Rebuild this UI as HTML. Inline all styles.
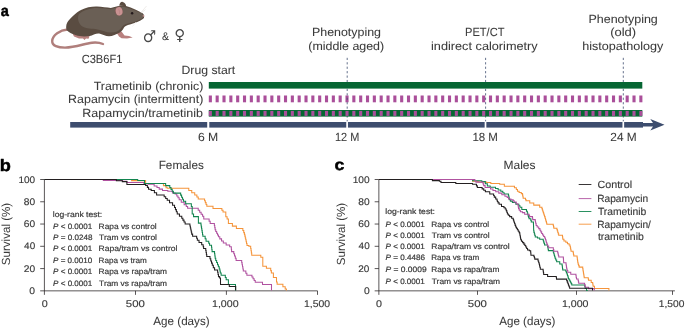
<!DOCTYPE html>
<html lang="en">
<head>
<meta charset="utf-8">
<title>Figure: drug treatment timeline and survival curves</title>
<style>
html,body{margin:0;padding:0;background:#fff;}
body{width:685px;height:328px;overflow:hidden;}
svg{display:block;font-family:"Liberation Sans",sans-serif;}
text{white-space:pre;text-rendering:geometricPrecision;}
</style>
</head>
<body>
<svg width="685" height="328" viewBox="0 0 685 328">
<rect width="685" height="328" fill="#fff"/>
<text x="0.75" y="15.9" font-size="15.4" textLength="8.1" font-weight="bold" fill="#000" stroke="#000" stroke-width="0.45" stroke-linejoin="round" lengthAdjust="spacingAndGlyphs">a</text>
<text x="-0.2" y="170.6" font-size="16.6" textLength="11.1" font-weight="bold" fill="#000" stroke="#000" stroke-width="0.45" stroke-linejoin="round" lengthAdjust="spacingAndGlyphs">b</text>
<text x="334.5" y="170.0" font-size="15.6" textLength="9.9" font-weight="bold" fill="#000" stroke="#000" stroke-width="0.45" stroke-linejoin="round" lengthAdjust="spacingAndGlyphs">c</text>

<g id="mouse">
 <path d="M67.5,29.5 C60,30 52.5,35 52.2,41 C52,46 58,47.6 65,47.6 C76,47.4 84,43.6 92,42.7 C97,42.2 100.5,42.9 103,44" fill="none" stroke="#b07f7c" stroke-width="2.4" stroke-linecap="round"/>
 <path d="M72,32.5 L74,36.5 L79,38.6 L83,38.4 L84.5,40 L86,38.6 L88.5,38.8 L89.5,36.5 L88,34.5 Z" fill="#b8807e"/>
 <path d="M116.5,32.5 L119,36.5 L121.5,38.2 L127,38.4 L132.7,37.4 L129,36 L124.5,35.6 L121.5,31.5 Z" fill="#b8807e"/>
 <path d="M119.3,5.6 C119.6,3 121,1.6 122.6,1.9 C124.5,2.2 126,4 126.2,6.3 Z" fill="#5a4c41"/>
 <path d="M66.5,30 C65.6,26 66.6,23 68.2,21 C71,17.5 76,12.5 81,10 C86,7.5 92,6.4 97,6.6 C102,6.8 107,7.6 110.8,8 C112.5,7.6 114.5,7.2 116.5,6.6 C119,5.6 122.5,5.0 126,5.9 C132,7.8 139,10.8 142.6,13.2 C144.5,14.6 144.7,17.6 143.2,18.8 C140,21.3 135,23.2 130,24.4 C127,25 125,26 124,27.5 C123,29.5 121.8,31.4 119.8,32.4 C116.5,34.2 112.5,36.2 109,36.3 C105.5,36.2 103,34.6 100,33.8 C96.5,33 94,34.8 91,35.7 C86,36.8 80,36.6 76,35.3 C72.5,34.2 69,32.5 66.5,30 Z" fill="#5a4c41"/>
 <path d="M79,14 C83,10.5 90,8 97,8 C103,8 108,9 111,9.3 C114,8.6 118,7 122,6.8 C128,7.4 137,11.2 142.2,14 C143.6,15.2 143.6,17.4 142.4,18.2 C138,20.8 133,22.4 128,23.4 C124,24 122,26.5 120.5,29 C118.5,31.5 115,32.4 111,32.6 C106,32.4 102,30 97.5,29.4 C92,28.8 86,28.8 82.5,26.6 C78.5,24 76.8,18 79,14 Z" fill="#6a5f55"/>
 <ellipse cx="118.8" cy="11.1" rx="4.1" ry="4.8" fill="#7a5b55" transform="rotate(-12 118.8 11.1)"/>
 <ellipse cx="119.1" cy="11.3" rx="3.4" ry="4.2" fill="#c99292" transform="rotate(-12 119.1 11.3)"/>
 <path d="M118.2,8.6 C119.4,10 119.8,12 119.4,14" fill="none" stroke="#b57f7f" stroke-width="0.6"/>
 <circle cx="132.1" cy="13.3" r="1.25" fill="#241a1c"/>
 <circle cx="143.5" cy="15.8" r="0.9" fill="#c48d8d"/>
 <path d="M141,12.5 L146.5,6 M141.5,12.8 L145.5,9.5" stroke="#e4e0de" stroke-width="0.6" fill="none"/>
 <path d="M136,22 L132.5,26.5" stroke="#ece9e7" stroke-width="0.6" fill="none"/>
</g>

<text id="t1" x="81.64" y="62.90" font-size="11.8" textLength="40.72" lengthAdjust="spacingAndGlyphs" fill="#3a3a3a" stroke="#3a3a3a" stroke-width="0.06" >C3B6F1</text>
<text transform="translate(149.4,41.9) scale(1,1.1)" x="0" y="0" font-size="15" text-anchor="middle" font-family="'DejaVu Sans', sans-serif" fill="#484848">&#9794;</text>
<text id="t2" x="162.06" y="40.30" font-size="11" textLength="7.04" lengthAdjust="spacingAndGlyphs" fill="#3a3a3a" stroke="#3a3a3a" stroke-width="0.06" >&amp;</text>
<text transform="translate(179.7,39.6)" x="0" y="0" font-size="15" text-anchor="middle" font-family="'DejaVu Sans', sans-serif" fill="#484848">&#9792;</text>
<text id="t3" x="181.49" y="73.80" font-size="11.8" textLength="53.71" lengthAdjust="spacingAndGlyphs" fill="#3a3a3a" stroke="#3a3a3a" stroke-width="0.06" >Drug start</text>
<text id="t4" x="93.75" y="89.50" font-size="11.8" textLength="109.55" lengthAdjust="spacingAndGlyphs" fill="#3a3a3a" stroke="#3a3a3a" stroke-width="0.06" >Trametinib (chronic)</text>
<text id="t5" x="68.14" y="103.30" font-size="11.8" textLength="135.16" lengthAdjust="spacingAndGlyphs" fill="#3a3a3a" stroke="#3a3a3a" stroke-width="0.06" >Rapamycin (intermittent)</text>
<text id="t6" x="82.29" y="117.00" font-size="11.8" textLength="120.76" lengthAdjust="spacingAndGlyphs" fill="#3a3a3a" stroke="#3a3a3a" stroke-width="0.06" >Rapamycin/trametinib</text>
<text id="t7" x="312.00" y="36.20" font-size="11.8" textLength="68.97" lengthAdjust="spacingAndGlyphs" fill="#3a3a3a" stroke="#3a3a3a" stroke-width="0.06" >Phenotyping</text>
<text id="t8" x="308.25" y="50.30" font-size="11.8" textLength="75.88" lengthAdjust="spacingAndGlyphs" fill="#3a3a3a" stroke="#3a3a3a" stroke-width="0.06" >(middle aged)</text>
<text id="t9" x="464.99" y="36.20" font-size="11.8" textLength="39.46" lengthAdjust="spacingAndGlyphs" fill="#3a3a3a" stroke="#3a3a3a" stroke-width="0.06" >PET/CT</text>
<text id="t10" x="431.04" y="50.30" font-size="11.8" textLength="106.66" lengthAdjust="spacingAndGlyphs" fill="#3a3a3a" stroke="#3a3a3a" stroke-width="0.06" >indirect calorimetry</text>
<text id="t11" x="588.43" y="22.60" font-size="11.8" textLength="69.39" lengthAdjust="spacingAndGlyphs" fill="#3a3a3a" stroke="#3a3a3a" stroke-width="0.06" >Phenotyping</text>
<text id="t12" x="610.23" y="36.20" font-size="11.8" textLength="25.92" lengthAdjust="spacingAndGlyphs" fill="#3a3a3a" stroke="#3a3a3a" stroke-width="0.06" >(old)</text>
<text id="t13" x="582.19" y="50.40" font-size="11.8" textLength="81.20" lengthAdjust="spacingAndGlyphs" fill="#3a3a3a" stroke="#3a3a3a" stroke-width="0.06" >histopathology</text>
<g fill="#aa4f9a"><rect x="208.80" y="95.5" width="3.1" height="6.8"/><rect x="215.63" y="95.5" width="3.1" height="6.8"/><rect x="222.47" y="95.5" width="3.1" height="6.8"/><rect x="229.30" y="95.5" width="3.1" height="6.8"/><rect x="236.13" y="95.5" width="3.1" height="6.8"/><rect x="242.97" y="95.5" width="3.1" height="6.8"/><rect x="249.80" y="95.5" width="3.1" height="6.8"/><rect x="256.63" y="95.5" width="3.1" height="6.8"/><rect x="263.47" y="95.5" width="3.1" height="6.8"/><rect x="270.30" y="95.5" width="3.1" height="6.8"/><rect x="277.13" y="95.5" width="3.1" height="6.8"/><rect x="283.97" y="95.5" width="3.1" height="6.8"/><rect x="290.80" y="95.5" width="3.1" height="6.8"/><rect x="297.63" y="95.5" width="3.1" height="6.8"/><rect x="304.47" y="95.5" width="3.1" height="6.8"/><rect x="311.30" y="95.5" width="3.1" height="6.8"/><rect x="318.13" y="95.5" width="3.1" height="6.8"/><rect x="324.97" y="95.5" width="3.1" height="6.8"/><rect x="331.80" y="95.5" width="3.1" height="6.8"/><rect x="338.63" y="95.5" width="3.1" height="6.8"/><rect x="345.47" y="95.5" width="3.1" height="6.8"/><rect x="352.30" y="95.5" width="3.1" height="6.8"/><rect x="359.13" y="95.5" width="3.1" height="6.8"/><rect x="365.97" y="95.5" width="3.1" height="6.8"/><rect x="372.80" y="95.5" width="3.1" height="6.8"/><rect x="379.63" y="95.5" width="3.1" height="6.8"/><rect x="386.47" y="95.5" width="3.1" height="6.8"/><rect x="393.30" y="95.5" width="3.1" height="6.8"/><rect x="400.13" y="95.5" width="3.1" height="6.8"/><rect x="406.97" y="95.5" width="3.1" height="6.8"/><rect x="413.80" y="95.5" width="3.1" height="6.8"/><rect x="420.63" y="95.5" width="3.1" height="6.8"/><rect x="427.47" y="95.5" width="3.1" height="6.8"/><rect x="434.30" y="95.5" width="3.1" height="6.8"/><rect x="441.13" y="95.5" width="3.1" height="6.8"/><rect x="447.97" y="95.5" width="3.1" height="6.8"/><rect x="454.80" y="95.5" width="3.1" height="6.8"/><rect x="461.63" y="95.5" width="3.1" height="6.8"/><rect x="468.47" y="95.5" width="3.1" height="6.8"/><rect x="475.30" y="95.5" width="3.1" height="6.8"/><rect x="482.13" y="95.5" width="3.1" height="6.8"/><rect x="488.97" y="95.5" width="3.1" height="6.8"/><rect x="495.80" y="95.5" width="3.1" height="6.8"/><rect x="502.63" y="95.5" width="3.1" height="6.8"/><rect x="509.47" y="95.5" width="3.1" height="6.8"/><rect x="516.30" y="95.5" width="3.1" height="6.8"/><rect x="523.13" y="95.5" width="3.1" height="6.8"/><rect x="529.97" y="95.5" width="3.1" height="6.8"/><rect x="536.80" y="95.5" width="3.1" height="6.8"/><rect x="543.63" y="95.5" width="3.1" height="6.8"/><rect x="550.47" y="95.5" width="3.1" height="6.8"/><rect x="557.30" y="95.5" width="3.1" height="6.8"/><rect x="564.13" y="95.5" width="3.1" height="6.8"/><rect x="570.97" y="95.5" width="3.1" height="6.8"/><rect x="577.80" y="95.5" width="3.1" height="6.8"/><rect x="584.63" y="95.5" width="3.1" height="6.8"/><rect x="591.47" y="95.5" width="3.1" height="6.8"/><rect x="598.30" y="95.5" width="3.1" height="6.8"/><rect x="605.13" y="95.5" width="3.1" height="6.8"/><rect x="611.97" y="95.5" width="3.1" height="6.8"/><rect x="618.80" y="95.5" width="3.1" height="6.8"/><rect x="625.63" y="95.5" width="3.1" height="6.8"/><rect x="632.47" y="95.5" width="3.1" height="6.8"/><rect x="639.30" y="95.5" width="3.1" height="6.8"/></g>
<line x1="347.2" y1="57.8" x2="347.2" y2="121.6" stroke="#3d4d6e" stroke-width="0.8" stroke-dasharray="2.2 2.23"/>
<line x1="485.6" y1="57.8" x2="485.6" y2="121.6" stroke="#3d4d6e" stroke-width="0.8" stroke-dasharray="2.2 2.23"/>
<line x1="623.3" y1="57.8" x2="623.3" y2="121.6" stroke="#3d4d6e" stroke-width="0.8" stroke-dasharray="2.2 2.23"/>
<rect x="208.8" y="82" width="433.5" height="6.6" fill="#066633"/>
<rect x="208.8" y="110" width="433.5" height="6.6" fill="#066633"/>
<g fill="#aa4f9a"><rect x="208.80" y="110.9" width="3.1" height="5.0"/><rect x="215.63" y="110.9" width="3.1" height="5.0"/><rect x="222.47" y="110.9" width="3.1" height="5.0"/><rect x="229.30" y="110.9" width="3.1" height="5.0"/><rect x="236.13" y="110.9" width="3.1" height="5.0"/><rect x="242.97" y="110.9" width="3.1" height="5.0"/><rect x="249.80" y="110.9" width="3.1" height="5.0"/><rect x="256.63" y="110.9" width="3.1" height="5.0"/><rect x="263.47" y="110.9" width="3.1" height="5.0"/><rect x="270.30" y="110.9" width="3.1" height="5.0"/><rect x="277.13" y="110.9" width="3.1" height="5.0"/><rect x="283.97" y="110.9" width="3.1" height="5.0"/><rect x="290.80" y="110.9" width="3.1" height="5.0"/><rect x="297.63" y="110.9" width="3.1" height="5.0"/><rect x="304.47" y="110.9" width="3.1" height="5.0"/><rect x="311.30" y="110.9" width="3.1" height="5.0"/><rect x="318.13" y="110.9" width="3.1" height="5.0"/><rect x="324.97" y="110.9" width="3.1" height="5.0"/><rect x="331.80" y="110.9" width="3.1" height="5.0"/><rect x="338.63" y="110.9" width="3.1" height="5.0"/><rect x="345.47" y="110.9" width="3.1" height="5.0"/><rect x="352.30" y="110.9" width="3.1" height="5.0"/><rect x="359.13" y="110.9" width="3.1" height="5.0"/><rect x="365.97" y="110.9" width="3.1" height="5.0"/><rect x="372.80" y="110.9" width="3.1" height="5.0"/><rect x="379.63" y="110.9" width="3.1" height="5.0"/><rect x="386.47" y="110.9" width="3.1" height="5.0"/><rect x="393.30" y="110.9" width="3.1" height="5.0"/><rect x="400.13" y="110.9" width="3.1" height="5.0"/><rect x="406.97" y="110.9" width="3.1" height="5.0"/><rect x="413.80" y="110.9" width="3.1" height="5.0"/><rect x="420.63" y="110.9" width="3.1" height="5.0"/><rect x="427.47" y="110.9" width="3.1" height="5.0"/><rect x="434.30" y="110.9" width="3.1" height="5.0"/><rect x="441.13" y="110.9" width="3.1" height="5.0"/><rect x="447.97" y="110.9" width="3.1" height="5.0"/><rect x="454.80" y="110.9" width="3.1" height="5.0"/><rect x="461.63" y="110.9" width="3.1" height="5.0"/><rect x="468.47" y="110.9" width="3.1" height="5.0"/><rect x="475.30" y="110.9" width="3.1" height="5.0"/><rect x="482.13" y="110.9" width="3.1" height="5.0"/><rect x="488.97" y="110.9" width="3.1" height="5.0"/><rect x="495.80" y="110.9" width="3.1" height="5.0"/><rect x="502.63" y="110.9" width="3.1" height="5.0"/><rect x="509.47" y="110.9" width="3.1" height="5.0"/><rect x="516.30" y="110.9" width="3.1" height="5.0"/><rect x="523.13" y="110.9" width="3.1" height="5.0"/><rect x="529.97" y="110.9" width="3.1" height="5.0"/><rect x="536.80" y="110.9" width="3.1" height="5.0"/><rect x="543.63" y="110.9" width="3.1" height="5.0"/><rect x="550.47" y="110.9" width="3.1" height="5.0"/><rect x="557.30" y="110.9" width="3.1" height="5.0"/><rect x="564.13" y="110.9" width="3.1" height="5.0"/><rect x="570.97" y="110.9" width="3.1" height="5.0"/><rect x="577.80" y="110.9" width="3.1" height="5.0"/><rect x="584.63" y="110.9" width="3.1" height="5.0"/><rect x="591.47" y="110.9" width="3.1" height="5.0"/><rect x="598.30" y="110.9" width="3.1" height="5.0"/><rect x="605.13" y="110.9" width="3.1" height="5.0"/><rect x="611.97" y="110.9" width="3.1" height="5.0"/><rect x="618.80" y="110.9" width="3.1" height="5.0"/><rect x="625.63" y="110.9" width="3.1" height="5.0"/><rect x="632.47" y="110.9" width="3.1" height="5.0"/><rect x="639.30" y="110.9" width="3.1" height="5.0"/></g>
<rect x="70.2" y="122.0" width="572.8" height="5.6" fill="#3d4d6e"/>
<path d="M642.5,123.1 H653 L650.3,119 L664.5,124.75 L650.3,130.6 L653,126.4 H642.5 Z" fill="#3d4d6e"/>
<rect x="207.20" y="121.5" width="2.1" height="6.8" fill="#fff"/>
<rect x="346.25" y="121.5" width="1.7" height="6.8" fill="#fff"/>
<rect x="484.65" y="121.5" width="1.7" height="6.8" fill="#fff"/>
<rect x="622.45" y="121.5" width="1.7" height="6.8" fill="#fff"/>
<text id="t14" x="197.95" y="141.00" font-size="11.8" textLength="20.33" lengthAdjust="spacingAndGlyphs" fill="#3a3a3a" stroke="#3a3a3a" stroke-width="0.06" >6 M</text>
<text id="t15" x="335.03" y="141.00" font-size="11.8" textLength="24.31" lengthAdjust="spacingAndGlyphs" fill="#3a3a3a" stroke="#3a3a3a" stroke-width="0.06" >12 M</text>
<text id="t16" x="472.39" y="141.00" font-size="11.8" textLength="25.58" lengthAdjust="spacingAndGlyphs" fill="#3a3a3a" stroke="#3a3a3a" stroke-width="0.06" >18 M</text>
<text id="t17" x="610.28" y="141.00" font-size="11.8" textLength="26.44" lengthAdjust="spacingAndGlyphs" fill="#3a3a3a" stroke="#3a3a3a" stroke-width="0.06" >24 M</text>
<path d="M44.40,179.50 V294.85 M40.20,290.85 H317.50 M40.20,179.50 H44.40 M40.20,201.77 H44.40 M40.20,224.04 H44.40 M40.20,246.31 H44.40 M40.20,268.58 H44.40 M135.50,290.85 V294.85 M226.40,290.85 V294.85 M317.50,290.85 V294.85" fill="none" stroke="#231f20" stroke-width="0.75"/>
<text id="t18" x="18.43" y="182.60" font-size="9.5" textLength="16.72" lengthAdjust="spacingAndGlyphs" fill="#3a3a3a" stroke="#3a3a3a" stroke-width="0.15" >100</text>
<text id="t19" x="23.85" y="204.87" font-size="9.5" textLength="11.35" lengthAdjust="spacingAndGlyphs" fill="#3a3a3a" stroke="#3a3a3a" stroke-width="0.15" >80</text>
<text id="t20" x="23.84" y="227.14" font-size="9.5" textLength="11.35" lengthAdjust="spacingAndGlyphs" fill="#3a3a3a" stroke="#3a3a3a" stroke-width="0.15" >60</text>
<text id="t21" x="24.11" y="249.41" font-size="9.5" textLength="11.05" lengthAdjust="spacingAndGlyphs" fill="#3a3a3a" stroke="#3a3a3a" stroke-width="0.15" >40</text>
<text id="t22" x="23.82" y="271.68" font-size="9.5" textLength="11.37" lengthAdjust="spacingAndGlyphs" fill="#3a3a3a" stroke="#3a3a3a" stroke-width="0.15" >20</text>
<text id="t23" x="29.38" y="293.95" font-size="9.5" textLength="5.77" lengthAdjust="spacingAndGlyphs" fill="#3a3a3a" stroke="#3a3a3a" stroke-width="0.15" >0</text>
<text id="t24" x="41.80" y="307.40" font-size="9.8" textLength="5.99" lengthAdjust="spacingAndGlyphs" fill="#3a3a3a" stroke="#3a3a3a" stroke-width="0.15" >0</text>
<text id="t25" x="125.86" y="307.40" font-size="9.8" textLength="19.01" lengthAdjust="spacingAndGlyphs" fill="#3a3a3a" stroke="#3a3a3a" stroke-width="0.15" >500</text>
<text id="t26" x="211.99" y="307.40" font-size="9.8" textLength="26.61" lengthAdjust="spacingAndGlyphs" fill="#3a3a3a" stroke="#3a3a3a" stroke-width="0.15" >1,000</text>
<text id="t27" x="304.04" y="307.40" font-size="9.8" textLength="26.13" lengthAdjust="spacingAndGlyphs" fill="#3a3a3a" stroke="#3a3a3a" stroke-width="0.15" >1,500</text>
<path d="M378.86,179.50 V294.85 M374.66,290.85 H674.90 M374.66,179.50 H378.86 M374.66,201.77 H378.86 M374.66,224.04 H378.86 M374.66,246.31 H378.86 M374.66,268.58 H378.86 M477.50,290.85 V294.85 M576.50,290.85 V294.85 M672.50,290.85 V294.85" fill="none" stroke="#231f20" stroke-width="0.75"/>
<text id="t28" x="352.71" y="182.60" font-size="9.5" textLength="16.96" lengthAdjust="spacingAndGlyphs" fill="#3a3a3a" stroke="#3a3a3a" stroke-width="0.15" >100</text>
<text id="t29" x="358.35" y="204.87" font-size="9.5" textLength="11.34" lengthAdjust="spacingAndGlyphs" fill="#3a3a3a" stroke="#3a3a3a" stroke-width="0.15" >80</text>
<text id="t30" x="358.35" y="227.14" font-size="9.5" textLength="11.34" lengthAdjust="spacingAndGlyphs" fill="#3a3a3a" stroke="#3a3a3a" stroke-width="0.15" >60</text>
<text id="t31" x="358.61" y="249.41" font-size="9.5" textLength="11.05" lengthAdjust="spacingAndGlyphs" fill="#3a3a3a" stroke="#3a3a3a" stroke-width="0.15" >40</text>
<text id="t32" x="358.34" y="271.68" font-size="9.5" textLength="11.10" lengthAdjust="spacingAndGlyphs" fill="#3a3a3a" stroke="#3a3a3a" stroke-width="0.15" >20</text>
<text id="t33" x="363.91" y="293.95" font-size="9.5" textLength="5.74" lengthAdjust="spacingAndGlyphs" fill="#3a3a3a" stroke="#3a3a3a" stroke-width="0.15" >0</text>
<text id="t34" x="376.09" y="307.40" font-size="9.8" textLength="5.96" lengthAdjust="spacingAndGlyphs" fill="#3a3a3a" stroke="#3a3a3a" stroke-width="0.15" >0</text>
<text id="t35" x="467.86" y="307.40" font-size="9.8" textLength="19.01" lengthAdjust="spacingAndGlyphs" fill="#3a3a3a" stroke="#3a3a3a" stroke-width="0.15" >500</text>
<text id="t36" x="561.94" y="307.40" font-size="9.8" textLength="26.61" lengthAdjust="spacingAndGlyphs" fill="#3a3a3a" stroke="#3a3a3a" stroke-width="0.15" >1,000</text>
<text id="t37" x="658.75" y="307.40" font-size="9.8" textLength="25.60" lengthAdjust="spacingAndGlyphs" fill="#3a3a3a" stroke="#3a3a3a" stroke-width="0.15" >1,500</text>
<text id="t38" x="158.67" y="169.40" font-size="11.8" textLength="45.18" lengthAdjust="spacingAndGlyphs" fill="#3a3a3a" stroke="#3a3a3a" stroke-width="0.06" >Females</text>
<text id="t39" x="503.47" y="169.40" font-size="11.8" textLength="32.04" lengthAdjust="spacingAndGlyphs" fill="#3a3a3a" stroke="#3a3a3a" stroke-width="0.06" >Males</text>
<text id="t40" x="153.30" y="324.70" font-size="11.8" textLength="56.31" lengthAdjust="spacingAndGlyphs" fill="#3a3a3a" stroke="#3a3a3a" stroke-width="0.06" >Age (days)</text>
<text id="t41" x="499.30" y="324.70" font-size="11.8" textLength="56.01" lengthAdjust="spacingAndGlyphs" fill="#3a3a3a" stroke="#3a3a3a" stroke-width="0.06" >Age (days)</text>
<text transform="translate(10.4,265.2) rotate(-90)" x="0" y="0" font-size="11.8" textLength="62.4" lengthAdjust="spacingAndGlyphs" fill="#3a3a3a">Survival (%)</text>
<text transform="translate(344.7,265.2) rotate(-90)" x="0" y="0" font-size="11.8" textLength="62.4" lengthAdjust="spacingAndGlyphs" fill="#3a3a3a">Survival (%)</text>
<text id="t42" x="52.83" y="216.60" font-size="7.8" textLength="49.42" lengthAdjust="spacingAndGlyphs" fill="#3a3a3a" stroke="#3a3a3a" stroke-width="0.2" >log-rank test:</text>
<text id="t43" x="53.10" y="228.60" font-size="7.8" textLength="39.15" lengthAdjust="spacingAndGlyphs" fill="#3a3a3a" stroke="#3a3a3a" stroke-width="0.2" ><tspan font-style="italic">P</tspan> &lt; 0.0001</text>
<text id="t44" x="98.60" y="228.60" font-size="7.8" textLength="58.07" lengthAdjust="spacingAndGlyphs" fill="#3a3a3a" stroke="#3a3a3a" stroke-width="0.2" >Rapa vs control</text>
<text id="t45" x="53.09" y="239.60" font-size="7.8" textLength="39.40" lengthAdjust="spacingAndGlyphs" fill="#3a3a3a" stroke="#3a3a3a" stroke-width="0.2" ><tspan font-style="italic">P</tspan> = 0.0248</text>
<text id="t46" x="99.10" y="239.60" font-size="7.8" textLength="57.90" lengthAdjust="spacingAndGlyphs" fill="#3a3a3a" stroke="#3a3a3a" stroke-width="0.2" >Tram vs control</text>
<text id="t47" x="53.10" y="250.80" font-size="7.8" textLength="39.15" lengthAdjust="spacingAndGlyphs" fill="#3a3a3a" stroke="#3a3a3a" stroke-width="0.2" ><tspan font-style="italic">P</tspan> &lt; 0.0001</text>
<text id="t48" x="98.59" y="250.80" font-size="7.8" textLength="78.91" lengthAdjust="spacingAndGlyphs" fill="#3a3a3a" stroke="#3a3a3a" stroke-width="0.2" >Rapa/tram vs control</text>
<text id="t49" x="53.09" y="262.50" font-size="7.8" textLength="39.15" lengthAdjust="spacingAndGlyphs" fill="#3a3a3a" stroke="#3a3a3a" stroke-width="0.2" ><tspan font-style="italic">P</tspan> = 0.0010</text>
<text id="t50" x="98.60" y="262.50" font-size="7.8" textLength="48.20" lengthAdjust="spacingAndGlyphs" fill="#3a3a3a" stroke="#3a3a3a" stroke-width="0.2" >Rapa vs tram</text>
<text id="t51" x="53.10" y="273.90" font-size="7.8" textLength="39.15" lengthAdjust="spacingAndGlyphs" fill="#3a3a3a" stroke="#3a3a3a" stroke-width="0.2" ><tspan font-style="italic">P</tspan> &lt; 0.0001</text>
<text id="t52" x="98.60" y="273.90" font-size="7.8" textLength="68.41" lengthAdjust="spacingAndGlyphs" fill="#3a3a3a" stroke="#3a3a3a" stroke-width="0.2" >Rapa vs rapa/tram</text>
<text id="t53" x="53.10" y="286.20" font-size="7.8" textLength="39.15" lengthAdjust="spacingAndGlyphs" fill="#3a3a3a" stroke="#3a3a3a" stroke-width="0.2" ><tspan font-style="italic">P</tspan> &lt; 0.0001</text>
<text id="t54" x="99.10" y="286.20" font-size="7.8" textLength="67.90" lengthAdjust="spacingAndGlyphs" fill="#3a3a3a" stroke="#3a3a3a" stroke-width="0.2" >Tram vs rapa/tram</text>
<text id="t55" x="385.30" y="214.40" font-size="7.8" textLength="49.66" lengthAdjust="spacingAndGlyphs" fill="#3a3a3a" stroke="#3a3a3a" stroke-width="0.2" >log-rank test:</text>
<text id="t56" x="385.56" y="226.90" font-size="7.8" textLength="39.25" lengthAdjust="spacingAndGlyphs" fill="#3a3a3a" stroke="#3a3a3a" stroke-width="0.2" ><tspan font-style="italic">P</tspan> &lt; 0.0001</text>
<text id="t57" x="431.29" y="226.90" font-size="7.8" textLength="57.91" lengthAdjust="spacingAndGlyphs" fill="#3a3a3a" stroke="#3a3a3a" stroke-width="0.2" >Rapa vs control</text>
<text id="t58" x="385.56" y="237.50" font-size="7.8" textLength="39.25" lengthAdjust="spacingAndGlyphs" fill="#3a3a3a" stroke="#3a3a3a" stroke-width="0.2" ><tspan font-style="italic">P</tspan> &lt; 0.0001</text>
<text id="t59" x="431.80" y="237.50" font-size="7.8" textLength="57.75" lengthAdjust="spacingAndGlyphs" fill="#3a3a3a" stroke="#3a3a3a" stroke-width="0.2" >Tram vs control</text>
<text id="t60" x="385.56" y="249.10" font-size="7.8" textLength="39.25" lengthAdjust="spacingAndGlyphs" fill="#3a3a3a" stroke="#3a3a3a" stroke-width="0.2" ><tspan font-style="italic">P</tspan> &lt; 0.0001</text>
<text id="t61" x="431.30" y="249.10" font-size="7.8" textLength="78.41" lengthAdjust="spacingAndGlyphs" fill="#3a3a3a" stroke="#3a3a3a" stroke-width="0.2" >Rapa/tram vs control</text>
<text id="t62" x="385.55" y="260.30" font-size="7.8" textLength="39.55" lengthAdjust="spacingAndGlyphs" fill="#3a3a3a" stroke="#3a3a3a" stroke-width="0.2" ><tspan font-style="italic">P</tspan> = 0.4486</text>
<text id="t63" x="431.28" y="260.30" font-size="7.8" textLength="48.07" lengthAdjust="spacingAndGlyphs" fill="#3a3a3a" stroke="#3a3a3a" stroke-width="0.2" >Rapa vs tram</text>
<text id="t64" x="385.55" y="271.80" font-size="7.8" textLength="41.05" lengthAdjust="spacingAndGlyphs" fill="#3a3a3a" stroke="#3a3a3a" stroke-width="0.2" ><tspan font-style="italic">P</tspan> = 0.0009</text>
<text id="t65" x="431.29" y="271.80" font-size="7.8" textLength="68.06" lengthAdjust="spacingAndGlyphs" fill="#3a3a3a" stroke="#3a3a3a" stroke-width="0.2" >Rapa vs rapa/tram</text>
<text id="t66" x="385.56" y="284.10" font-size="7.8" textLength="39.25" lengthAdjust="spacingAndGlyphs" fill="#3a3a3a" stroke="#3a3a3a" stroke-width="0.2" ><tspan font-style="italic">P</tspan> &lt; 0.0001</text>
<text id="t67" x="431.80" y="284.10" font-size="7.8" textLength="68.25" lengthAdjust="spacingAndGlyphs" fill="#3a3a3a" stroke="#3a3a3a" stroke-width="0.2" >Tram vs rapa/tram</text>
<line x1="578.7" y1="184.5" x2="591.4" y2="184.5" stroke="#231f20" stroke-width="0.9"/>
<line x1="578.7" y1="198.6" x2="591.4" y2="198.6" stroke="#b052a0" stroke-width="0.9"/>
<line x1="578.7" y1="211.5" x2="591.4" y2="211.5" stroke="#12844f" stroke-width="0.9"/>
<line x1="578.7" y1="224.2" x2="591.4" y2="224.2" stroke="#f5943a" stroke-width="0.9"/>
<text id="t68" x="597.44" y="187.80" font-size="10.4" textLength="34.62" lengthAdjust="spacingAndGlyphs" fill="#3a3a3a" stroke="#3a3a3a" stroke-width="0.15" >Control</text>
<text id="t69" x="597.18" y="201.80" font-size="10.4" textLength="50.88" lengthAdjust="spacingAndGlyphs" fill="#3a3a3a" stroke="#3a3a3a" stroke-width="0.15" >Rapamycin</text>
<text id="t70" x="597.94" y="215.00" font-size="10.4" textLength="48.36" lengthAdjust="spacingAndGlyphs" fill="#3a3a3a" stroke="#3a3a3a" stroke-width="0.15" >Trametinib</text>
<text id="t71" x="597.20" y="227.80" font-size="10.4" textLength="53.70" lengthAdjust="spacingAndGlyphs" fill="#3a3a3a" stroke="#3a3a3a" stroke-width="0.15" >Rapamycin/</text>
<text id="t72" x="597.95" y="240.00" font-size="10.4" textLength="45.85" lengthAdjust="spacingAndGlyphs" fill="#3a3a3a" stroke="#3a3a3a" stroke-width="0.15" >trametinib</text>
<path d="M44.40,179.50 L131.60,179.50 L131.60,180.60 L145.60,180.60 L145.60,183.40 L162.10,183.40 L163.43,183.40 L163.43,185.60 L166.07,185.60 L166.07,187.80 L167.40,187.80 L167.40,188.30 L187.30,188.30 L188.78,188.30 L188.78,190.53 L191.75,190.53 L191.75,192.77 L194.72,192.77 L194.72,195.00 L196.20,195.00 L196.88,195.00 L196.88,197.00 L198.22,197.00 L198.22,199.00 L198.90,199.00 L204.20,199.00 L204.57,199.00 L204.57,200.80 L205.32,200.80 L205.32,202.60 L206.07,202.60 L206.07,204.40 L206.82,204.40 L206.82,206.20 L207.20,206.20 L213.00,206.20 L213.00,208.40 L221.30,208.40 L221.88,208.40 L221.88,210.15 L223.03,210.15 L223.03,211.90 L223.60,211.90 L225.80,211.90 L225.80,216.80 L227.10,216.80 L227.10,219.00 L228.40,219.00 L228.40,223.40 L232.40,223.40 L232.40,226.10 L236.40,226.10 L236.40,228.40 L242.40,228.40 L242.85,228.40 L242.85,230.50 L243.75,230.50 L243.75,232.60 L244.20,232.60 L244.42,232.60 L244.42,234.37 L244.85,234.37 L244.85,236.13 L245.28,236.13 L245.28,237.90 L245.50,237.90 L245.71,237.90 L245.71,239.78 L246.14,239.78 L246.14,241.65 L246.56,241.65 L246.56,243.53 L246.99,243.53 L246.99,245.40 L247.20,245.40 L248.85,245.40 L248.85,246.20 L250.50,246.20 L250.68,246.20 L250.68,248.45 L251.03,248.45 L251.03,250.70 L251.38,250.70 L251.38,252.95 L251.72,252.95 L251.72,255.20 L251.90,255.20 L260.80,255.20 L260.80,257.20 L262.80,257.20 L262.80,266.20 L266.40,266.20 L266.40,268.30 L270.40,268.30 L270.72,268.30 L270.72,270.60 L271.38,270.60 L271.38,272.90 L271.70,272.90 L273.40,272.90 L273.40,277.50 L276.50,277.50 L276.50,281.90 L277.15,281.90 L277.15,284.30 L277.80,284.30 L281.80,284.30 L282.90,284.30 L282.90,286.80 L284.00,286.80 L285.20,286.80 L285.20,289.00 L286.40,289.00 L286.40,290.50" fill="none" stroke="#f5943a" stroke-width="1.05" stroke-linejoin="miter"/>
<path d="M44.40,179.50 L103.30,179.50 L103.30,180.50 L122.60,180.50 L122.60,181.20 L126.90,181.20 L126.90,182.40 L143.90,182.40 L143.90,183.60 L148.15,183.60 L148.15,184.10 L152.40,184.10 L154.15,184.10 L154.15,186.00 L155.90,186.00 L157.00,186.00 L157.00,187.55 L159.20,187.55 L159.20,189.10 L160.30,189.10 L162.50,189.10 L162.50,190.50 L164.70,190.50 L167.80,190.50 L167.80,191.30 L170.90,191.30 L172.45,191.30 L172.45,193.00 L174.00,193.00 L175.10,193.00 L175.10,194.00 L176.20,194.00 L176.80,194.00 L176.80,195.90 L178.00,195.90 L178.00,197.80 L179.20,197.80 L179.20,199.70 L179.80,199.70 L181.25,199.70 L181.25,202.20 L184.15,202.20 L184.15,204.70 L185.60,204.70 L186.28,204.70 L186.28,206.50 L187.62,206.50 L187.62,208.30 L188.30,208.30 L197.50,208.30 L198.22,208.30 L198.22,210.28 L199.68,210.28 L199.68,212.25 L201.12,212.25 L201.12,214.22 L202.58,214.22 L202.58,216.20 L203.30,216.20 L203.75,216.20 L203.75,218.90 L204.20,218.90 L208.60,218.90 L209.12,218.90 L209.12,221.15 L210.17,221.15 L210.17,223.40 L210.70,223.40 L214.20,223.40 L214.38,223.40 L214.38,225.50 L214.75,225.50 L214.75,227.60 L215.12,227.60 L215.12,229.70 L215.30,229.70 L215.75,229.70 L215.75,231.47 L216.65,231.47 L216.65,233.25 L217.55,233.25 L217.55,235.03 L218.45,235.03 L218.45,236.80 L218.90,236.80 L219.78,236.80 L219.78,238.87 L221.55,238.87 L221.55,240.93 L223.32,240.93 L223.32,243.00 L224.20,243.00 L226.15,243.00 L226.15,245.00 L228.10,245.00 L229.65,245.00 L229.65,246.80 L231.20,246.80 L231.32,246.80 L231.32,249.20 L231.57,249.20 L231.57,251.60 L231.70,251.60 L233.40,251.60 L233.79,251.60 L233.79,253.82 L234.56,253.82 L234.56,256.05 L235.34,256.05 L235.34,258.27 L236.11,258.27 L236.11,260.50 L236.50,260.50 L241.50,260.50 L241.70,260.50 L241.70,262.60 L242.10,262.60 L242.10,264.70 L242.50,264.70 L242.50,266.80 L242.90,266.80 L242.90,268.90 L243.30,268.90 L243.30,271.00 L243.50,271.00 L245.30,271.00 L245.83,271.00 L245.83,273.15 L246.88,273.15 L246.88,275.30 L247.40,275.30 L251.40,275.30 L251.95,275.30 L251.95,277.05 L253.05,277.05 L253.05,278.80 L254.15,278.80 L254.15,280.55 L255.25,280.55 L255.25,282.30 L255.80,282.30 L262.50,282.30 L262.50,284.50 L271.50,284.50 L271.50,290.50" fill="none" stroke="#b052a0" stroke-width="1.05" stroke-linejoin="miter"/>
<path d="M44.40,179.50 L137.70,179.50 L137.70,180.40 L144.50,180.40 L144.50,183.40 L162.10,183.40 L165.65,183.40 L165.65,185.60 L169.20,185.60 L169.80,185.60 L169.80,187.47 L171.00,187.47 L171.00,189.35 L172.20,189.35 L172.20,191.22 L173.40,191.22 L173.40,193.10 L174.00,193.10 L180.20,193.10 L180.66,193.10 L180.66,195.12 L181.59,195.12 L181.59,197.15 L182.51,197.15 L182.51,199.17 L183.44,199.17 L183.44,201.20 L183.90,201.20 L185.65,201.20 L185.65,203.80 L187.40,203.80 L190.50,203.80 L191.35,203.80 L191.35,206.50 L192.20,206.50 L192.20,214.00 L193.55,214.00 L193.55,216.60 L194.90,216.60 L198.40,216.60 L198.40,223.10 L200.80,223.10 L200.96,223.10 L200.96,224.99 L201.27,224.99 L201.27,226.87 L201.59,226.87 L201.59,228.76 L201.90,228.76 L201.90,230.64 L202.21,230.64 L202.21,232.53 L202.53,232.53 L202.53,234.41 L202.84,234.41 L202.84,236.30 L203.00,236.30 L204.70,236.30 L205.15,236.30 L205.15,238.75 L206.05,238.75 L206.05,241.20 L206.50,241.20 L208.30,241.20 L208.73,241.20 L208.73,243.20 L209.57,243.20 L209.57,245.20 L210.00,245.20 L211.40,245.20 L211.53,245.20 L211.53,247.33 L211.80,247.33 L211.80,249.47 L212.07,249.47 L212.07,251.60 L212.20,251.60 L214.40,251.60 L214.55,251.60 L214.55,253.83 L214.85,253.83 L214.85,256.07 L215.15,256.07 L215.15,258.30 L215.30,258.30 L215.74,258.30 L215.74,260.42 L216.62,260.42 L216.62,262.54 L217.50,262.54 L217.50,264.66 L218.38,264.66 L218.38,266.78 L219.26,266.78 L219.26,268.90 L219.70,268.90 L219.90,268.90 L219.90,270.95 L220.30,270.95 L220.30,273.00 L220.50,273.00 L221.15,273.00 L221.15,275.30 L221.80,275.30 L224.90,275.30 L225.32,275.30 L225.32,277.50 L226.18,277.50 L226.18,279.70 L226.60,279.70 L228.40,279.70 L228.40,284.50 L235.50,284.50 L235.50,290.50" fill="none" stroke="#12844f" stroke-width="1.05" stroke-linejoin="miter"/>
<path d="M44.40,179.50 L116.40,179.50 L116.40,180.70 L122.30,180.70 L122.30,181.60 L126.90,181.60 L126.90,184.40 L144.50,184.40 L145.65,184.40 L145.65,185.40 L146.80,185.40 L147.38,185.40 L147.38,187.35 L148.53,187.35 L148.53,189.30 L149.10,189.30 L151.20,189.30 L151.20,190.50 L153.30,190.50 L154.40,190.50 L154.40,192.70 L156.60,192.70 L156.60,194.90 L157.70,194.90 L163.40,194.90 L164.17,194.90 L164.17,196.70 L165.70,196.70 L165.70,198.50 L167.23,198.50 L167.23,200.30 L168.00,200.30 L169.53,200.30 L169.53,202.75 L172.57,202.75 L172.57,205.20 L174.10,205.20 L174.55,205.20 L174.55,207.40 L175.45,207.40 L175.45,209.60 L176.35,209.60 L176.35,211.80 L177.25,211.80 L177.25,214.00 L177.70,214.00 L179.45,214.00 L179.45,216.20 L181.20,216.20 L181.76,216.20 L181.76,218.15 L182.89,218.15 L182.89,220.10 L184.01,220.10 L184.01,222.05 L185.14,222.05 L185.14,224.00 L185.70,224.00 L189.70,224.00 L189.92,224.00 L189.92,226.02 L190.36,226.02 L190.36,228.04 L190.80,228.04 L190.80,230.06 L191.24,230.06 L191.24,232.08 L191.68,232.08 L191.68,234.10 L191.90,234.10 L192.60,234.10 L192.60,236.30 L193.30,236.30 L196.30,236.30 L196.65,236.30 L196.65,238.30 L197.35,238.30 L197.35,240.30 L197.70,240.30 L199.02,240.30 L199.02,242.50 L201.68,242.50 L201.68,244.70 L203.00,244.70 L203.20,244.70 L203.20,246.60 L203.60,246.60 L203.60,248.50 L203.80,248.50 L205.60,248.50 L205.76,248.50 L205.76,250.50 L206.09,250.50 L206.09,252.50 L206.41,252.50 L206.41,254.50 L206.74,254.50 L206.74,256.50 L206.90,256.50 L209.60,256.50 L209.99,256.50 L209.99,258.70 L210.76,258.70 L210.76,260.90 L211.54,260.90 L211.54,263.10 L212.31,263.10 L212.31,265.30 L212.70,265.30 L213.32,265.30 L213.32,267.65 L214.57,267.65 L214.57,270.00 L215.20,270.00 L217.40,270.00 L217.62,270.00 L217.62,272.20 L218.05,272.20 L218.05,274.40 L218.48,274.40 L218.48,276.60 L218.70,276.60 L219.60,276.60 L219.60,277.90 L220.50,277.90 L220.50,284.50 L229.30,284.50 L229.30,286.50 L235.70,286.50 L235.70,290.50" fill="none" stroke="#231f20" stroke-width="1.05" stroke-linejoin="miter"/>
<path d="M378.80,179.50 L471.60,179.50 L472.50,179.50 L472.50,181.20 L473.40,181.20 L478.05,181.20 L478.05,181.90 L482.70,181.90 L486.65,181.90 L486.65,182.50 L490.60,182.50 L490.80,182.50 L490.80,183.40 L491.00,183.40 L499.50,183.40 L499.70,183.40 L499.70,184.30 L499.90,184.30 L503.90,184.30 L504.35,184.30 L504.35,186.30 L504.80,186.30 L513.10,186.30 L514.45,186.30 L514.45,187.80 L515.80,187.80 L516.35,187.80 L516.35,189.55 L517.45,189.55 L517.45,191.30 L518.00,191.30 L519.10,191.30 L519.10,192.45 L521.30,192.45 L521.30,193.60 L522.40,193.60 L522.55,193.60 L522.55,195.13 L522.85,195.13 L522.85,196.67 L523.15,196.67 L523.15,198.20 L523.30,198.20 L525.30,198.20 L525.52,198.20 L525.52,199.45 L525.98,199.45 L525.98,200.70 L526.20,200.70 L528.90,200.70 L529.75,200.70 L529.75,202.90 L530.60,202.90 L533.30,202.90 L533.75,202.90 L533.75,205.10 L534.20,205.10 L539.50,205.10 L539.70,205.10 L539.70,207.30 L539.90,207.30 L541.70,207.30 L541.92,207.30 L541.92,208.63 L542.35,208.63 L542.35,209.97 L542.78,209.97 L542.78,211.30 L543.00,211.30 L543.23,211.30 L543.23,212.62 L543.67,212.62 L543.67,213.95 L544.12,213.95 L544.12,215.28 L544.57,215.28 L544.57,216.60 L544.80,216.60 L545.05,216.60 L545.05,218.27 L545.55,218.27 L545.55,219.93 L546.05,219.93 L546.05,221.60 L546.30,221.60 L546.47,221.60 L546.47,222.90 L546.83,222.90 L546.83,224.20 L547.00,224.20 L553.10,224.20 L553.25,224.20 L553.25,225.53 L553.55,225.53 L553.55,226.87 L553.85,226.87 L553.85,228.20 L554.00,228.20 L556.70,228.20 L556.92,228.20 L556.92,229.62 L557.36,229.62 L557.36,231.04 L557.80,231.04 L557.80,232.46 L558.24,232.46 L558.24,233.88 L558.68,233.88 L558.68,235.30 L558.90,235.30 L562.40,235.30 L562.48,235.30 L562.48,236.60 L562.65,236.60 L562.65,237.90 L562.82,237.90 L562.82,239.20 L562.90,239.20 L563.95,239.20 L563.95,241.00 L565.00,241.00 L565.82,241.00 L565.82,242.33 L567.45,242.33 L567.45,243.67 L569.08,243.67 L569.08,245.00 L569.90,245.00 L570.06,245.00 L570.06,246.55 L570.39,246.55 L570.39,248.10 L570.71,248.10 L570.71,249.65 L571.04,249.65 L571.04,251.20 L571.20,251.20 L573.00,251.20 L573.15,251.20 L573.15,252.80 L573.45,252.80 L573.45,254.40 L573.75,254.40 L573.75,256.00 L573.90,256.00 L577.00,256.00 L577.11,256.00 L577.11,257.68 L577.34,257.68 L577.34,259.35 L577.56,259.35 L577.56,261.02 L577.79,261.02 L577.79,262.70 L577.90,262.70 L578.15,262.70 L578.15,264.17 L578.65,264.17 L578.65,265.63 L579.15,265.63 L579.15,267.10 L579.40,267.10 L582.60,267.10 L582.72,267.10 L582.72,268.63 L582.96,268.63 L582.96,270.16 L583.21,270.16 L583.21,271.69 L583.45,271.69 L583.45,273.21 L583.69,273.21 L583.69,274.74 L583.94,274.74 L583.94,276.27 L584.18,276.27 L584.18,277.80 L584.30,277.80 L588.10,277.80 L588.25,277.80 L588.25,279.00 L588.55,279.00 L588.55,280.20 L588.70,280.20 L590.80,280.20 L591.20,280.20 L591.20,282.40 L591.60,282.40 L592.60,282.40 L592.70,282.40 L592.70,283.70 L592.90,283.70 L592.90,285.00 L593.10,285.00 L593.10,286.30 L593.20,286.30 L594.30,286.30 L594.50,286.30 L594.50,288.40 L594.70,288.40 L608.90,288.40 L608.90,290.50" fill="none" stroke="#f5943a" stroke-width="1.05" stroke-linejoin="miter"/>
<path d="M378.80,179.50 L471.60,179.50 L472.70,179.50 L472.70,180.70 L473.80,180.70 L480.90,180.70 L481.80,180.70 L481.80,181.60 L482.70,181.60 L484.90,181.60 L485.35,181.60 L485.35,183.80 L485.80,183.80 L487.35,183.80 L487.35,186.00 L488.90,186.00 L490.20,186.00 L490.20,187.20 L491.50,187.20 L494.20,187.20 L495.52,187.20 L495.52,188.57 L498.15,188.57 L498.15,189.93 L500.78,189.93 L500.78,191.30 L502.10,191.30 L502.78,191.30 L502.78,192.65 L504.12,192.65 L504.12,194.00 L504.80,194.00 L508.30,194.00 L508.45,194.00 L508.45,195.33 L508.75,195.33 L508.75,196.67 L509.05,196.67 L509.05,198.00 L509.20,198.00 L509.30,198.00 L509.30,199.80 L509.40,199.80 L510.40,199.80 L510.40,201.10 L512.40,201.10 L512.40,202.40 L513.40,202.40 L515.85,202.40 L515.85,204.20 L518.30,204.20 L518.85,204.20 L518.85,205.75 L519.95,205.75 L519.95,207.30 L520.50,207.30 L521.80,207.30 L521.80,209.50 L523.10,209.50 L525.80,209.50 L526.45,209.50 L526.45,211.30 L527.10,211.30 L527.33,211.30 L527.33,213.05 L527.77,213.05 L527.77,214.80 L528.00,214.80 L528.22,214.80 L528.22,216.13 L528.65,216.13 L528.65,217.47 L529.08,217.47 L529.08,218.80 L529.30,218.80 L530.60,218.80 L530.83,218.80 L530.83,220.35 L531.27,220.35 L531.27,221.90 L531.50,221.90 L533.40,221.90 L533.42,221.90 L533.42,223.38 L533.48,223.38 L533.48,224.87 L533.52,224.87 L533.52,226.35 L533.58,226.35 L533.58,227.83 L533.62,227.83 L533.62,229.32 L533.68,229.32 L533.68,230.80 L533.70,230.80 L533.93,230.80 L533.93,232.35 L534.38,232.35 L534.38,233.90 L534.83,233.90 L534.83,235.45 L535.27,235.45 L535.27,237.00 L535.50,237.00 L537.50,237.00 L537.50,237.90 L539.50,237.90 L539.70,237.90 L539.70,239.20 L539.90,239.20 L543.00,239.20 L543.23,239.20 L543.23,240.65 L543.67,240.65 L543.67,242.10 L544.12,242.10 L544.12,243.55 L544.57,243.55 L544.57,245.00 L544.80,245.00 L547.40,245.00 L547.54,245.00 L547.54,246.40 L547.81,246.40 L547.81,247.80 L548.09,247.80 L548.09,249.20 L548.36,249.20 L548.36,250.60 L548.50,250.60 L553.10,250.60 L553.32,250.60 L553.32,252.14 L553.76,252.14 L553.76,253.68 L554.20,253.68 L554.20,255.22 L554.64,255.22 L554.64,256.76 L555.08,256.76 L555.08,258.30 L555.30,258.30 L555.75,258.30 L555.75,260.05 L556.65,260.05 L556.65,261.80 L557.10,261.80 L559.30,261.80 L559.75,261.80 L559.75,264.00 L560.20,264.00 L562.00,264.00 L562.10,264.00 L562.10,265.50 L562.30,265.50 L562.30,267.00 L562.50,267.00 L562.50,268.50 L562.70,268.50 L562.70,270.00 L562.80,270.00 L565.50,270.00 L565.78,270.00 L565.78,271.33 L566.35,271.33 L566.35,272.67 L566.92,272.67 L566.92,274.00 L567.20,274.00 L567.43,274.00 L567.43,275.47 L567.90,275.47 L567.90,276.93 L568.37,276.93 L568.37,278.40 L568.60,278.40 L568.97,278.40 L568.97,279.70 L569.70,279.70 L569.70,281.00 L570.43,281.00 L570.43,282.30 L570.80,282.30 L571.12,282.30 L571.12,283.60 L571.77,283.60 L571.77,284.90 L572.10,284.90 L584.60,284.90 L584.80,284.90 L584.80,286.70 L585.20,286.70 L585.20,288.50 L585.40,288.50 L586.55,288.50 L586.55,290.50 L587.70,290.50" fill="none" stroke="#12844f" stroke-width="1.05" stroke-linejoin="miter"/>
<path d="M378.80,179.50 L474.30,179.50 L474.85,179.50 L474.85,180.80 L475.95,180.80 L475.95,182.10 L476.50,182.10 L482.70,182.10 L483.02,182.10 L483.02,183.85 L483.68,183.85 L483.68,185.60 L484.00,185.60 L485.10,185.60 L485.10,187.40 L486.20,187.40 L489.30,187.40 L490.52,187.40 L490.52,188.95 L492.98,188.95 L492.98,190.50 L494.20,190.50 L495.73,190.50 L495.73,191.80 L498.77,191.80 L498.77,193.10 L500.30,193.10 L501.85,193.10 L501.85,194.65 L504.95,194.65 L504.95,196.20 L506.50,196.20 L507.18,196.20 L507.18,197.55 L508.52,197.55 L508.52,198.90 L509.20,198.90 L510.95,198.90 L510.95,199.70 L512.70,199.70 L513.20,199.70 L513.20,200.85 L514.20,200.85 L514.20,202.00 L514.70,202.00 L516.25,202.00 L516.25,203.70 L517.80,203.70 L517.95,203.70 L517.95,205.33 L518.25,205.33 L518.25,206.97 L518.55,206.97 L518.55,208.60 L518.70,208.60 L519.25,208.60 L519.25,210.15 L520.35,210.15 L520.35,211.70 L520.90,211.70 L522.45,211.70 L522.45,212.60 L524.00,212.60 L524.65,212.60 L524.65,214.30 L525.30,214.30 L528.90,214.30 L529.12,214.30 L529.12,215.45 L529.57,215.45 L529.57,216.60 L529.80,216.60 L532.40,216.60 L532.50,216.60 L532.50,218.10 L532.70,218.10 L532.70,219.60 L532.80,219.60 L535.10,219.60 L535.23,219.60 L535.23,220.93 L535.50,220.93 L535.50,222.27 L535.77,222.27 L535.77,223.60 L535.90,223.60 L536.15,223.60 L536.15,225.50 L536.40,225.50 L537.17,225.50 L537.17,227.05 L538.73,227.05 L538.73,228.60 L539.50,228.60 L539.93,228.60 L539.93,230.23 L540.80,230.23 L540.80,231.87 L541.67,231.87 L541.67,233.50 L542.10,233.50 L542.62,233.50 L542.62,234.97 L543.65,234.97 L543.65,236.43 L544.68,236.43 L544.68,237.90 L545.20,237.90 L545.43,237.90 L545.43,239.45 L545.88,239.45 L545.88,241.00 L546.33,241.00 L546.33,242.55 L546.77,242.55 L546.77,244.10 L547.00,244.10 L547.55,244.10 L547.55,245.90 L548.65,245.90 L548.65,247.70 L549.20,247.70 L553.10,247.70 L553.33,247.70 L553.33,249.45 L553.77,249.45 L553.77,251.20 L554.00,251.20 L557.50,251.20 L557.67,251.20 L557.67,252.62 L558.02,252.62 L558.02,254.05 L558.38,254.05 L558.38,255.47 L558.73,255.47 L558.73,256.90 L558.90,256.90 L563.30,256.90 L563.35,256.90 L563.35,258.35 L563.45,258.35 L563.45,259.80 L563.55,259.80 L563.55,261.25 L563.65,261.25 L563.65,262.70 L563.70,262.70 L565.90,262.70 L566.01,262.70 L566.01,264.25 L566.24,264.25 L566.24,265.80 L566.46,265.80 L566.46,267.35 L566.69,267.35 L566.69,268.90 L566.80,268.90 L567.12,268.90 L567.12,270.55 L567.77,270.55 L567.77,272.20 L568.10,272.20 L570.30,272.20 L570.75,272.20 L570.75,274.20 L571.20,274.20 L575.80,274.20 L575.93,274.20 L575.93,275.80 L576.20,275.80 L576.20,277.40 L576.47,277.40 L576.47,279.00 L576.60,279.00 L578.00,279.00 L578.13,279.00 L578.13,280.43 L578.40,280.43 L578.40,281.87 L578.67,281.87 L578.67,283.30 L578.80,283.30 L584.40,283.30 L584.60,283.30 L584.60,284.60 L585.00,284.60 L585.00,285.90 L585.40,285.90 L585.40,287.20 L585.60,287.20 L588.10,287.20 L588.55,287.20 L588.55,288.60 L589.00,288.60 L594.30,288.60 L594.30,290.50" fill="none" stroke="#b052a0" stroke-width="1.05" stroke-linejoin="miter"/>
<path d="M378.80,179.50 L432.40,179.50 L432.40,180.60 L439.40,180.60 L439.40,181.30 L440.95,181.30 L440.95,182.40 L442.50,182.40 L455.80,182.40 L455.80,183.50 L472.10,183.50 L472.55,183.50 L472.55,184.30 L473.00,184.30 L476.00,184.30 L476.45,184.30 L476.45,185.85 L477.35,185.85 L477.35,187.40 L477.80,187.40 L481.30,187.40 L482.12,187.40 L482.12,188.87 L483.75,188.87 L483.75,190.33 L485.38,190.33 L485.38,191.80 L486.20,191.80 L489.75,191.80 L489.75,194.00 L493.30,194.00 L493.62,194.00 L493.62,195.55 L494.28,195.55 L494.28,197.10 L494.60,197.10 L495.70,197.10 L495.70,198.90 L496.80,198.90 L496.98,198.90 L496.98,200.20 L497.32,200.20 L497.32,201.50 L497.50,201.50 L498.05,201.50 L498.05,202.85 L499.15,202.85 L499.15,204.20 L499.70,204.20 L501.50,204.20 L501.50,206.40 L503.30,206.40 L503.95,206.40 L503.95,207.70 L505.25,207.70 L505.25,209.00 L505.90,209.00 L506.20,209.00 L506.20,210.63 L506.80,210.63 L506.80,212.27 L507.40,212.27 L507.40,213.90 L507.70,213.90 L508.35,213.90 L508.35,215.25 L509.65,215.25 L509.65,216.60 L510.30,216.60 L511.65,216.60 L511.65,218.30 L513.00,218.30 L513.22,218.30 L513.22,219.63 L513.65,219.63 L513.65,220.97 L514.08,220.97 L514.08,222.30 L514.30,222.30 L514.58,222.30 L514.58,223.83 L515.15,223.83 L515.15,225.37 L515.72,225.37 L515.72,226.90 L516.00,226.90 L516.45,226.90 L516.45,228.32 L517.35,228.32 L517.35,229.75 L518.25,229.75 L518.25,231.18 L519.15,231.18 L519.15,232.60 L519.60,232.60 L519.73,232.60 L519.73,234.02 L519.99,234.02 L519.99,235.44 L520.25,235.44 L520.25,236.86 L520.51,236.86 L520.51,238.28 L520.77,238.28 L520.77,239.70 L520.90,239.70 L521.48,239.70 L521.48,241.17 L522.65,241.17 L522.65,242.63 L523.82,242.63 L523.82,244.10 L524.40,244.10 L524.85,244.10 L524.85,245.55 L525.75,245.55 L525.75,247.00 L526.65,247.00 L526.65,248.45 L527.55,248.45 L527.55,249.90 L528.00,249.90 L529.30,249.90 L529.30,250.70 L530.60,250.70 L530.67,250.70 L530.67,252.20 L530.80,252.20 L530.80,253.70 L530.93,253.70 L530.93,255.20 L531.00,255.20 L533.70,255.20 L533.92,255.20 L533.92,256.50 L534.35,256.50 L534.35,257.80 L534.78,257.80 L534.78,259.10 L535.00,259.10 L537.70,259.10 L538.03,259.10 L538.03,260.90 L538.67,260.90 L538.67,262.70 L539.00,262.70 L539.19,262.70 L539.19,264.32 L539.56,264.32 L539.56,265.95 L539.94,265.95 L539.94,267.57 L540.31,267.57 L540.31,269.20 L540.50,269.20 L543.00,269.20 L543.13,269.20 L543.13,270.93 L543.40,270.93 L543.40,272.67 L543.67,272.67 L543.67,274.40 L543.80,274.40 L547.40,274.40 L547.60,274.40 L547.60,276.40 L547.80,276.40 L556.20,276.40 L556.30,276.40 L556.30,277.75 L556.50,277.75 L556.50,279.10 L556.60,279.10 L566.40,279.10 L566.69,279.10 L566.69,280.62 L567.27,280.62 L567.27,282.13 L567.86,282.13 L567.86,283.65 L568.44,283.65 L568.44,285.17 L569.02,285.17 L569.02,286.68 L569.61,286.68 L569.61,288.20 L569.90,288.20 L592.50,288.20 L592.50,290.50" fill="none" stroke="#231f20" stroke-width="1.05" stroke-linejoin="miter"/>
</svg>
</body>
</html>
